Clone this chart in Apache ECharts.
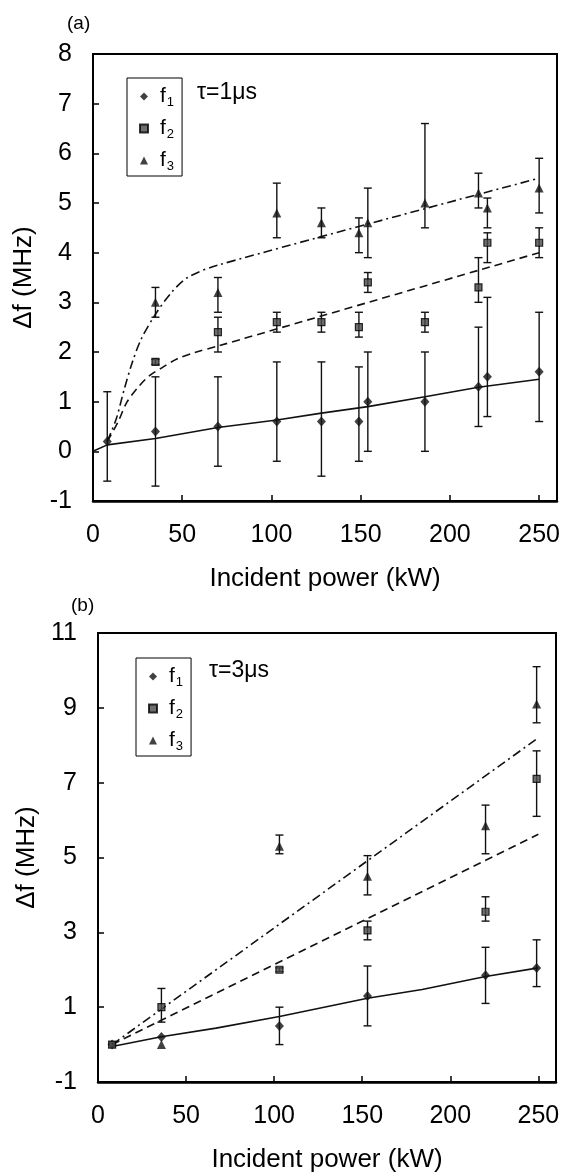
<!DOCTYPE html>
<html>
<head>
<meta charset="utf-8">
<script src="https://cdn.jsdelivr.net/npm/echarts@6/dist/echarts.min.js"></script>
<style>
  html, body { margin: 0; padding: 0; background: #fff; }
  #chart { width: 566px; height: 1174px; }
</style>
</head>
<body>
<div id="chart"></div>
<script>
// Panel (a): pulse width 1 us
const powerA  = [8, 35, 70, 103, 128, 149, 154, 186, 216, 221, 250];
const f1A     = [0.2, 0.4, 0.5, 0.6, 0.6, 0.6, 1.0, 1.0, 1.3, 1.5, 1.6];
const f1ALow  = [-0.6, -0.7, -0.3, -0.2, -0.5, -0.2, 0.0, 0.0, 0.5, 0.7, 0.6];
const f1AHigh = [1.2, 1.5, 1.5, 1.8, 1.8, 1.7, 2.0, 2.0, 2.5, 3.1, 2.8];
const f2A     = [null, 1.8, 2.4, 2.6, 2.6, 2.5, 3.4, 2.6, 3.3, 4.2, 4.2];
const f2ALow  = [null, 1.75, 2.0, 2.4, 2.4, 2.3, 3.2, 2.4, 3.0, 3.8, 3.9];
const f2AHigh = [null, 1.85, 2.7, 2.8, 2.8, 2.8, 3.6, 2.8, 3.9, 4.4, 4.5];
const f3A     = [null, 3.0, 3.2, 4.8, 4.6, 4.4, 4.6, 5.0, 5.2, 4.9, 5.3];
const f3ALow  = [null, 2.7, 2.8, 4.3, 4.3, 4.0, 3.9, 4.5, 4.9, 4.5, 4.8];
const f3AHigh = [null, 3.3, 3.5, 5.4, 4.9, 4.7, 5.3, 6.6, 5.6, 5.1, 5.9];

// Fitted trends, panel (a)
const fitA1X = [0, 8, 35, 70, 103, 128, 154, 186, 216, 250];
const fitA1Y = [0, 0.13, 0.26, 0.48, 0.63, 0.77, 0.9, 1.1, 1.29, 1.45];
const fitA2X = [8, 14, 19, 26, 31.5, 39, 47, 57, 70, 250];
const fitA2Y = [0.2, 0.59, 0.99, 1.32, 1.52, 1.69, 1.86, 1.99, 2.12, 4.0];
const fitA3X = [8, 13, 17.5, 22, 27, 35, 44, 53, 70, 250];
const fitA3Y = [0.2, 0.65, 1.25, 1.79, 2.26, 2.76, 3.2, 3.5, 3.75, 5.5];

// Panel (b): pulse width 3 us
const powerB  = [8, 36, 103, 153, 220, 249];
const f1B     = [0.0, 0.2, 0.5, 1.3, 1.85, 2.05];
const f1BLow  = [null, null, 0.0, 0.5, 1.1, 1.55];
const f1BHigh = [null, null, 1.0, 2.1, 2.6, 2.8];
const f2B     = [0.0, 1.0, 2.0, 3.05, 3.55, 7.1];
const f2BLow  = [null, 0.6, 1.95, 2.8, 3.3, 6.1];
const f2BHigh = [null, 1.5, 2.05, 3.3, 3.95, 7.85];
const f3B     = [null, 0.0, 5.3, 4.5, 5.85, 9.1];
const f3BLow  = [null, null, 5.1, 4.0, 5.1, 8.6];
const f3BHigh = [null, null, 5.6, 5.05, 6.4, 10.1];

// Fitted trends, panel (b)
const fitB1X = [8, 36, 67, 103, 153, 184, 220, 250];
const fitB1Y = [-0.05, 0.21, 0.44, 0.75, 1.24, 1.47, 1.82, 2.05];
const fitB2X = [8, 250];
const fitB2Y = [0.0, 5.62];
const fitB3X = [8, 250];
const fitB3Y = [0.0, 8.2];

// Axis ticks
const xTicks = [0, 50, 100, 150, 200, 250];
const yTicksA = [-1, 0, 1, 2, 3, 4, 5, 6, 7, 8];
const yTicksB = [-1, 1, 3, 5, 7, 9, 11];

const FONT = '"Liberation Sans", Arial, Helvetica, sans-serif';
const INK = '#111';

function points(xs, ys) {
  return xs.map((x, i) => [x, ys[i]]).filter(p => p[1] != null);
}
function ranges(xs, lo, hi) {
  return xs.map((x, i) => [x, lo[i], hi[i]]).filter(p => p[1] != null && p[2] != null);
}

function errorBars(axis, data) {
  return {
    type: 'custom', xAxisIndex: axis, yAxisIndex: axis, data: data,
    encode: { x: 0, y: [1, 2] }, z: 3, silent: true,
    renderItem: function (params, api) {
      const x = api.value(0);
      const top = api.coord([x, api.value(2)]);
      const bot = api.coord([x, api.value(1)]);
      const cap = 4;
      const style = { stroke: INK, lineWidth: 1.4 };
      return {
        type: 'group',
        children: [
          { type: 'line', shape: { x1: top[0], y1: top[1], x2: bot[0], y2: bot[1] }, style: style },
          { type: 'line', shape: { x1: top[0] - cap, y1: top[1], x2: top[0] + cap, y2: top[1] }, style: style },
          { type: 'line', shape: { x1: bot[0] - cap, y1: bot[1], x2: bot[0] + cap, y2: bot[1] }, style: style }
        ]
      };
    }
  };
}

const markerStyle = {
  f1: { symbol: 'diamond', symbolSize: [9, 10], itemStyle: { color: INK } },
  f2: { symbol: 'rect', symbolSize: 7, itemStyle: { color: '#4a4a4a', borderColor: '#000', borderWidth: 1.2 } },
  f3: { symbol: 'triangle', symbolSize: [9, 9], itemStyle: { color: INK } }
};

function scatter(name, axis, data) {
  return Object.assign({
    type: 'scatter', name: name, xAxisIndex: axis, yAxisIndex: axis,
    data: data, z: 4, silent: true
  }, markerStyle[name]);
}

function fit(axis, xs, ys, dash, smooth) {
  return {
    type: 'line', xAxisIndex: axis, yAxisIndex: axis, data: points(xs, ys),
    symbol: 'none', smooth: smooth || false, silent: true, z: 2,
    lineStyle: { color: INK, width: 1.6, type: dash }
  };
}

function xAxis(grid) {
  return {
    gridIndex: grid, type: 'value', min: 0, max: 260, interval: 50,
    axisLine: { onZero: false, lineStyle: { color: '#000', width: 2.5 } },
    axisTick: { inside: true, length: 6, lineStyle: { color: '#000', width: 1.5 } },
    axisLabel: {
      margin: 22, fontSize: 25, color: '#000', fontFamily: FONT,
      formatter: v => xTicks.indexOf(v) >= 0 ? String(v) : ''
    },
    splitLine: { show: false },
    name: 'Incident power (kW)', nameLocation: 'middle', nameGap: 65,
    nameTextStyle: { fontSize: 26, color: '#000', fontFamily: FONT }
  };
}

function yAxis(grid, min, max, interval, ticks) {
  return {
    gridIndex: grid, type: 'value', min: min, max: max, interval: interval,
    axisLine: { show: true, onZero: false, lineStyle: { color: '#000', width: 2 } },
    axisTick: { show: true, inside: true, length: 6, lineStyle: { color: '#000', width: 1.5 } },
    axisLabel: {
      margin: 21, fontSize: 25, color: '#000', fontFamily: FONT,
      formatter: v => ticks.indexOf(v) >= 0 ? String(v) : ''
    },
    splitLine: { show: false },
    name: 'Δf (MHz)', nameLocation: 'middle', nameGap: 56,
    nameTextStyle: { fontSize: 26, color: '#000', fontFamily: FONT }
  };
}

function legend(left, top) {
  return {
    orient: 'vertical', left: left, top: top,
    data: [
      { name: 'f1', icon: 'diamond' },
      { name: 'f2', icon: 'rect' },
      { name: 'f3', icon: 'triangle' }
    ],
    itemWidth: 8, itemHeight: 8, itemGap: 7,
    padding: [6, 8, 3, 12],
    borderColor: '#000', borderWidth: 1, selectedMode: false,
    formatter: name => '{f|f}{s|' + name.slice(1) + '}',
    textStyle: {
      fontFamily: FONT, color: '#000',
      rich: {
        f: { fontSize: 21, lineHeight: 25, fontFamily: FONT, padding: [0, 0, 0, 7] },
        s: { fontSize: 13, lineHeight: 25, fontFamily: FONT, padding: [12, 0, 0, 1] }
      }
    }
  };
}

const chart = echarts.init(document.getElementById('chart'), null, { renderer: 'canvas' });

chart.setOption({
  backgroundColor: '#fff',
  animation: false,
  grid: [
    { left: 93, top: 54, width: 464, height: 447, show: true, borderColor: '#000', borderWidth: 2, backgroundColor: 'transparent' },
    { left: 98, top: 633, width: 458, height: 449, show: true, borderColor: '#000', borderWidth: 2, backgroundColor: 'transparent' }
  ],
  xAxis: [xAxis(0), xAxis(1)],
  yAxis: [yAxis(0, -1, 8, 1, yTicksA), yAxis(1, -1, 11, 2, yTicksB)],
  legend: [legend(127, 78), legend(136, 658)],
  graphic: [
    { type: 'text', left: 67, top: 14, style: { text: '(a)', fontSize: 19, fontFamily: FONT, fill: '#000' } },
    { type: 'text', left: 71, top: 596, style: { text: '(b)', fontSize: 19, fontFamily: FONT, fill: '#000' } },
    { type: 'text', left: 197, top: 81, style: { text: 'τ=1μs', fontSize: 23, fontFamily: FONT, fill: '#000' } },
    { type: 'text', left: 209, top: 659, style: { text: 'τ=3μs', fontSize: 23, fontFamily: FONT, fill: '#000' } }
  ],
  series: [
    fit(0, fitA1X, fitA1Y, 'solid'),
    fit(0, fitA2X, fitA2Y, [8, 5], 0.3),
    fit(0, fitA3X, fitA3Y, [9, 4, 2, 4], 0.3),
    errorBars(0, ranges(powerA, f1ALow, f1AHigh)),
    errorBars(0, ranges(powerA, f2ALow, f2AHigh)),
    errorBars(0, ranges(powerA, f3ALow, f3AHigh)),
    scatter('f1', 0, points(powerA, f1A)),
    scatter('f2', 0, points(powerA, f2A)),
    scatter('f3', 0, points(powerA, f3A)),

    fit(1, fitB1X, fitB1Y, 'solid'),
    fit(1, fitB2X, fitB2Y, [8, 5]),
    fit(1, fitB3X, fitB3Y, [9, 4, 2, 4]),
    errorBars(1, ranges(powerB, f1BLow, f1BHigh)),
    errorBars(1, ranges(powerB, f2BLow, f2BHigh)),
    errorBars(1, ranges(powerB, f3BLow, f3BHigh)),
    scatter('f1', 1, points(powerB, f1B)),
    scatter('f2', 1, points(powerB, f2B)),
    scatter('f3', 1, points(powerB, f3B))
  ]
});
</script>
</body>
</html>
